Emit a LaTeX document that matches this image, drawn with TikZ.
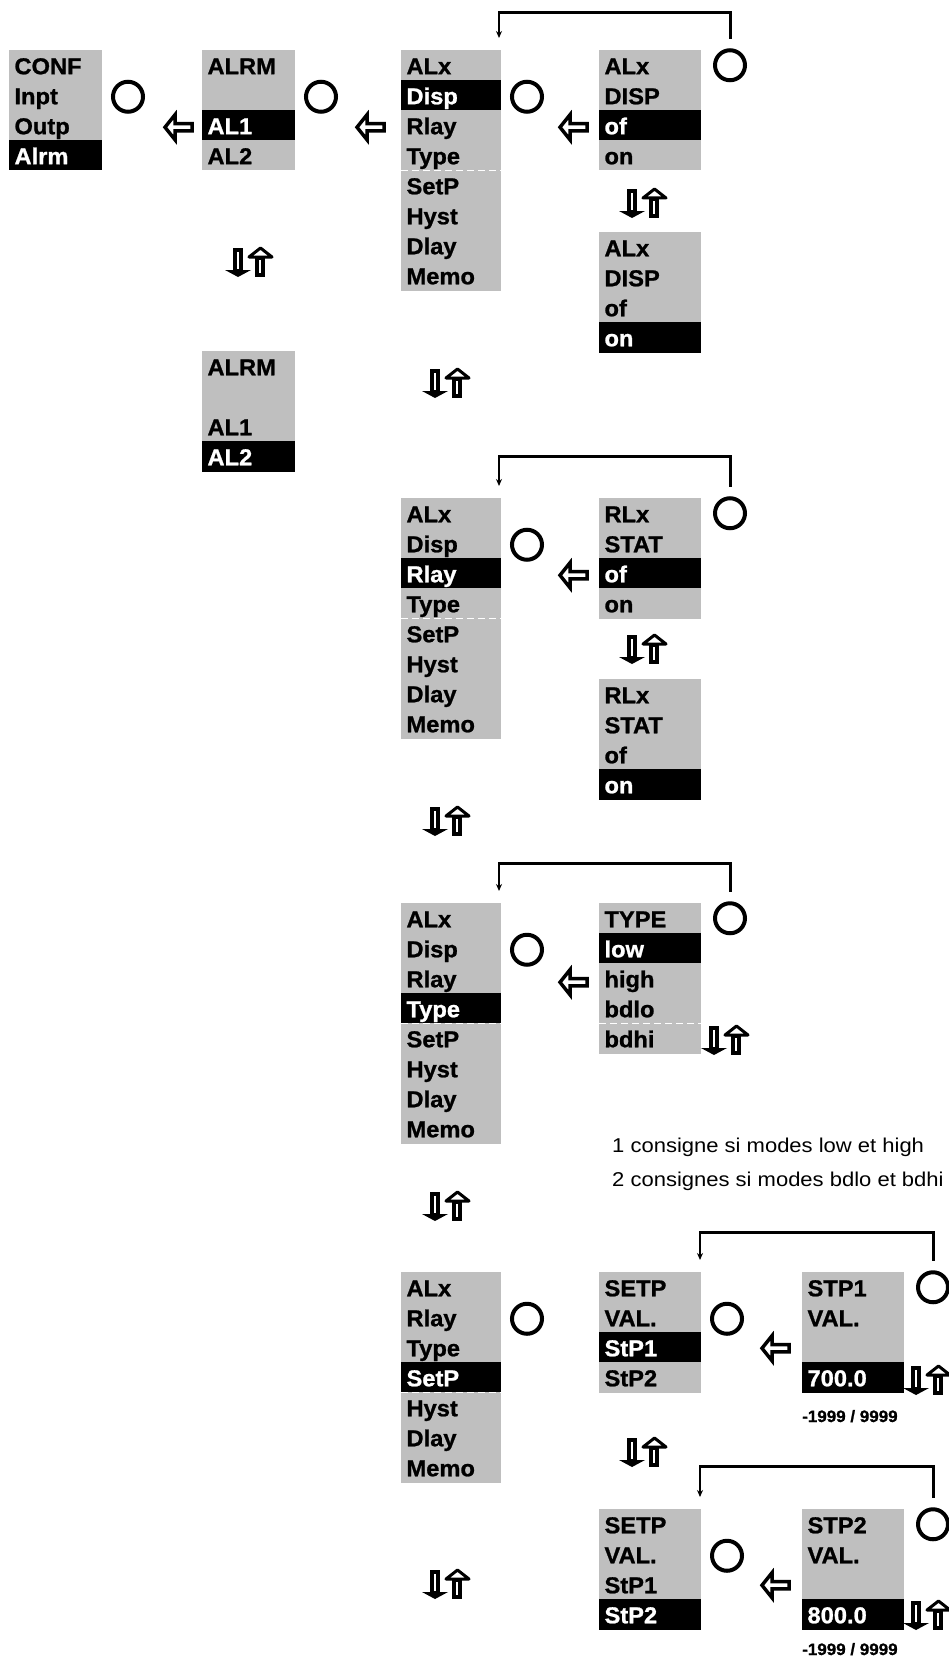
\documentclass[tikz,border=0pt]{standalone}
\usepackage{fontspec}
\setmainfont{Liberation Sans}[FakeStretch=1.1]
\newfontfamily\menufont{Liberation Sans}[FakeStretch=1.03, BoldFeatures={FakeBold=1}]
\usetikzlibrary{arrows.meta}
\definecolor{menugray}{gray}{0.75}

\tikzstyle{item} = [rectangle, anchor=north west, fill=menugray, minimum height=30.5pt, inner xsep=5.5pt, inner ysep=0pt, outer sep=0pt, text height=20pt, text depth=2pt, align=left, font=\menufont\fontsize{23}{25}\selectfont\bfseries]
\tikzstyle{sel} = [fill=black, text=white]
\tikzstyle{knob} = [circle, draw, line width=4pt, minimum size=30pt, inner sep=0pt]
\tikzstyle{sepline} = [white, dash pattern=on 7pt off 4pt, line width=1.3pt]
\tikzstyle{retline} = [line width=3pt, line cap=rect]
\tikzstyle{retarrow} = [line width=1.2pt, -{Stealth[length=7pt,width=6pt]}]
\tikzstyle{note} = [anchor=base west, inner sep=0pt, font=\fontsize{20}{22}\selectfont]
\tikzstyle{limits} = [anchor=base west, inner sep=0pt, font=\menufont\fontsize{16.5}{18}\selectfont\bfseries]

\tikzset{
  backarrow/.pic={
    \draw[line width=3.5pt, fill=white] (0,-3.6) -- (-17,-3.6) -- (-17,-12.5) -- (-27,0) -- (-17,12.5) -- (-17,3.6) -- (0,3.6) -- cycle;
  },
  updown/.pic={
    \draw[line width=4pt, fill=white] (-17,-12) rectangle (-11,9);
    \fill (-27,8) -- (-1,8) -- (-14,15) -- cycle;
    \draw[line width=4pt, fill=white] (5,-4) rectangle (11,13);
    \draw[line width=3pt, fill=white, line join=round] (-3,-5) -- (20,-5) -- (8.5,-14) -- cycle;
  }
}

% one menu column: name, x, top, width, items, selected row
\newcommand{\menubox}[6]{%
  \foreach \txt [count=\i] in {#5} {%
    \ifnum\i=#6\relax
      \node[item, sel, text width=#4pt-11pt] (#1-\i) at (#2,#3+30*\i-30) {\txt};
    \else
      \node[item, text width=#4pt-11pt] (#1-\i) at (#2,#3+30*\i-30) {\txt};
    \fi
  }%
}

\begin{document}
\begin{tikzpicture}[x=1pt, y=-1pt]
    \useasboundingbox (0,0) rectangle (948,1656);

    % menus
    \menubox{conf}{9}{50}{93}{CONF,Inpt,Outp,Alrm}{4}
    \menubox{alrmA}{202}{50}{93}{ALRM,{},AL1,AL2}{3}
    \menubox{alxA}{401}{50}{100}{ALx,Disp,Rlay,Type,SetP,Hyst,Dlay,Memo}{2}
    \menubox{dispA}{599}{50}{102}{ALx,DISP,of,on}{3}
    \menubox{dispB}{599}{232}{102}{ALx,DISP,of,on}{4}
    \menubox{alrmB}{202}{351}{93}{ALRM,{},AL1,AL2}{4}
    \menubox{alxB}{401}{498}{100}{ALx,Disp,Rlay,Type,SetP,Hyst,Dlay,Memo}{3}
    \menubox{rlxA}{599}{498}{102}{RLx,STAT,of,on}{3}
    \menubox{rlxB}{599}{679}{102}{RLx,STAT,of,on}{4}
    \menubox{alxC}{401}{903}{100}{ALx,Disp,Rlay,Type,SetP,Hyst,Dlay,Memo}{4}
    \menubox{typeA}{599}{903}{102}{TYPE,low,high,bdlo,bdhi}{2}
    \menubox{alxD}{401}{1272}{100}{ALx,Rlay,Type,SetP,Hyst,Dlay,Memo}{4}
    \menubox{setpA}{599}{1272}{102}{SETP,VAL.,StP1,StP2}{3}
    \menubox{stpA}{802}{1272}{102}{STP1,VAL.,{},700.0}{4}
    \menubox{setpB}{599}{1509}{102}{SETP,VAL.,StP1,StP2}{4}
    \menubox{stpB}{802}{1509}{102}{STP2,VAL.,{},800.0}{4}

    \draw[sepline] (alxA-4.south west) -- (alxA-4.south east);
    \draw[sepline] (alxB-4.south west) -- (alxB-4.south east);
    \draw[sepline] (alxC-4.south west) -- (alxC-4.south east);
    \draw[sepline] (typeA-4.south west) -- (typeA-4.south east);
    \draw[sepline] (alxD-4.south west) -- (alxD-4.south east);

    % enter keys
    \node[knob] (kconf) at ([xshift=26pt,yshift=-1.5pt]conf-2.east) {};
    \node[knob] (kalrmA) at ([xshift=26pt,yshift=-1.5pt]alrmA-2.east) {};
    \node[knob] (kalxA) at ([xshift=26pt,yshift=-1.5pt]alxA-2.east) {};
    \node[knob] (kalxB) at ([xshift=26pt,yshift=-1.5pt]alxB-2.east) {};
    \node[knob] (kalxC) at ([xshift=26pt,yshift=-1.5pt]alxC-2.east) {};
    \node[knob] (kalxD) at ([xshift=26pt,yshift=-1.5pt]alxD-2.east) {};
    \node[knob] (ksetpA) at ([xshift=26pt,yshift=-1.5pt]setpA-2.east) {};
    \node[knob] (ksetpB) at ([xshift=26pt,yshift=-1.5pt]setpB-2.east) {};

    % return keys
    \node[knob] (rdispA) at ([xshift=29pt]dispA-1.east) {};
    \node[knob] (rrlxA) at ([xshift=29pt]rlxA-1.east) {};
    \node[knob] (rtypeA) at ([xshift=29pt]typeA-1.east) {};
    \node[knob] (rstpA) at ([xshift=29pt]stpA-1.east) {};
    \node[knob] (rstpB) at ([xshift=29pt]stpB-1.east) {};

    % back arrows
    \pic at ([xshift=-10pt,yshift=-2pt]alrmA-3.west) {backarrow};
    \pic at ([xshift=-17pt,yshift=-2pt]alxA-3.west) {backarrow};
    \pic at ([xshift=-12pt,yshift=-2pt]dispA-3.west) {backarrow};
    \pic at ([xshift=-12pt,yshift=-2pt]rlxA-3.west) {backarrow};
    \pic at ([xshift=-12pt,yshift=-4pt]typeA-3.west) {backarrow};
    \pic at ([xshift=-13pt,yshift=-1pt]stpA-3.west) {backarrow};
    \pic at ([xshift=-13pt,yshift=-1pt]stpB-3.west) {backarrow};

    % up / down keys
    \pic at (252,262) {updown};
    \pic at (646,203) {updown};
    \pic at (449,383) {updown};
    \pic at (646,649) {updown};
    \pic at (449,821) {updown};
    \pic at (728,1040) {updown};
    \pic at (449,1206) {updown};
    \pic at (930,1380) {updown};
    \pic at (646,1452) {updown};
    \pic at (449,1584) {updown};
    \pic at (930,1615) {updown};

    % return loops
    \draw[retline, shorten <=11pt] (rdispA.north) |- ([xshift=-2pt,yshift=37pt]alxA-1.north east) coordinate (tA);
    \draw[retarrow] (tA) -- ([xshift=-2pt,yshift=12pt]alxA-1.north east);
    \draw[retline, shorten <=11pt] (rrlxA.north) |- ([xshift=-2pt,yshift=42pt]alxB-1.north east) coordinate (tB);
    \draw[retarrow] (tB) -- ([xshift=-2pt,yshift=12pt]alxB-1.north east);
    \draw[retline, shorten <=11pt] (rtypeA.north) |- ([xshift=-2pt,yshift=40pt]alxC-1.north east) coordinate (tC);
    \draw[retarrow] (tC) -- ([xshift=-2pt,yshift=12pt]alxC-1.north east);
    \draw[retline, shorten <=11pt] (rstpA.north) |- ([xshift=-1pt,yshift=40pt]setpA-1.north east) coordinate (tD);
    \draw[retarrow] (tD) -- ([xshift=-1pt,yshift=12pt]setpA-1.north east);
    \draw[retline, shorten <=11pt] (rstpB.north) |- ([xshift=-1pt,yshift=43pt]setpB-1.north east) coordinate (tE);
    \draw[retarrow] (tE) -- ([xshift=-1pt,yshift=12pt]setpB-1.north east);

    % notes
    \node[note] (noteA) at (612,1152) {1 consigne si modes low et high};
    \node[note] (noteB) at (612,1186) {2 consignes si modes bdlo et bdhi};
    \node[limits] (limA) at (802,1422) {-1999 / 9999};
    \node[limits] (limB) at (802,1655) {-1999 / 9999};
\end{tikzpicture}
\end{document}
